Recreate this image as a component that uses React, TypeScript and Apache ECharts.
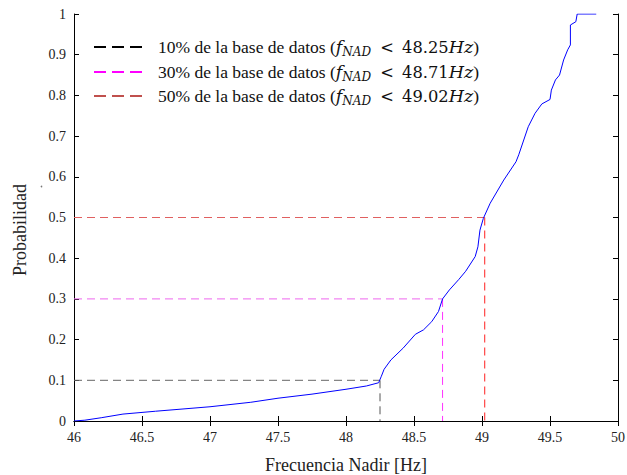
import React, { useEffect, useRef } from "react";
import * as echarts from "echarts";

const cdfX = [46.0, 46.08, 46.2, 46.36, 46.6, 47.0, 47.3, 47.5, 47.75, 48.0, 48.15, 48.24, 48.26, 48.28, 48.33, 48.42, 48.51, 48.57, 48.63, 48.68, 48.71, 48.76, 48.83, 48.88, 48.95, 48.97, 48.985, 49.01, 49.06, 49.16, 49.25, 49.27, 49.34, 49.39, 49.44, 49.5, 49.51, 49.54, 49.57, 49.6, 49.63, 49.65, 49.65, 49.69, 49.7, 49.84];
const cdfY = [0.0, 0.002, 0.008, 0.017, 0.024, 0.035, 0.046, 0.056, 0.066, 0.078, 0.086, 0.094, 0.11, 0.127, 0.15, 0.179, 0.213, 0.224, 0.244, 0.269, 0.3, 0.322, 0.348, 0.368, 0.404, 0.428, 0.469, 0.498, 0.535, 0.592, 0.637, 0.654, 0.723, 0.756, 0.779, 0.79, 0.813, 0.838, 0.85, 0.887, 0.912, 0.924, 0.973, 0.981, 1.0, 1.0];

const thresholdPct = [10, 30, 50];
const thresholdProb = [0.1, 0.3, 0.5];
const thresholdFreq = [48.25, 48.71, 49.02];
const thresholdLabels = ["48.25", "48.71", "49.02"];
const legendColors = ["#000000", "#ff00ff", "#c0504d"];
const vLineColors = ["#555555", "#ff33ff", "#ff2020"];
const hLineColors = ["#666666", "#ee66ee", "#e06060"];

const X_MIN = 46;
const X_MAX = 50;

export default function App() {
  const ref = useRef<HTMLDivElement>(null);
  useEffect(() => {
    if (!ref.current) return;
    const chart = echarts.init(ref.current, undefined, { renderer: "svg" });
    const font = "'Liberation Serif', 'Times New Roman', serif";
    const math = "'DejaVu Serif', serif";

    const series: any[] = [
      {
        type: "line",
        data: cdfX.map((x, i) => [x, cdfY[i]]),
        showSymbol: false,
        lineStyle: { color: "#0000ff", width: 1 },
        z: 5,
      },
    ];
    thresholdFreq.forEach((f, i) => {
      series.push({
        type: "line",
        data: [
          [X_MIN, thresholdProb[i]],
          [f, thresholdProb[i]],
        ],
        showSymbol: false,
        lineStyle: { color: hLineColors[i], width: 1, type: [8, 5] },
        z: 3,
      });
      series.push({
        type: "line",
        data: [
          [f, thresholdProb[i]],
          [f, 0],
        ],
        showSymbol: false,
        lineStyle: { color: vLineColors[i], width: 1, type: [8, 5] },
        z: 3,
      });
    });

    const graphics: any[] = [];
    const legendY = [47, 72, 96];
    thresholdPct.forEach((p, i) => {
      graphics.push({
        type: "line",
        shape: { x1: 94, y1: legendY[i], x2: 143, y2: legendY[i] },
        style: { stroke: legendColors[i], lineWidth: 2, lineDash: [12, 6] },
      });
      graphics.push({
        type: "text",
        x: 158,
        y: legendY[i],
        style: {
          text: `{n|${p}% de la base de datos (}{i|f}{s|NAD}{m|\u2002<\u2002${thresholdLabels[i]}}{i|Hz}{n|)}`,
          verticalAlign: "middle",
          rich: {
            n: { fontFamily: font, fontSize: 17.5, fill: "#111" },
            m: { fontFamily: math, fontSize: 16.3, fill: "#111" },
            i: { fontFamily: math, fontSize: 17.5, fontStyle: "italic", fill: "#111" },
            s: { fontFamily: math, fontSize: 12, fontStyle: "italic", fill: "#111", padding: [9, 1, 0, 0] },
          },
        },
      });
    });
    graphics.push({
      type: "circle",
      shape: { cx: 41.5, cy: 186.5, r: 0.8 },
      style: { fill: "#777" },
    });

    const axisCommon = {
      type: "value",
      axisLine: { show: true, lineStyle: { color: "#000", width: 1 } },
      axisTick: { show: true, inside: true, length: 5, lineStyle: { color: "#000" } },
      splitLine: { show: false },
    };

    chart.setOption({
      animation: false,
      backgroundColor: "#fff",
      grid: { left: 74, right: 9, top: 14, bottom: 54, containLabel: false, outerBoundsMode: "none" },
      xAxis: [
        {
          ...axisCommon,
          min: X_MIN,
          max: X_MAX,
          interval: 0.5,
          position: "bottom",
          axisLabel: { fontFamily: font, fontSize: 14, color: "#222", margin: 9 },
          name: "Frecuencia Nadir [Hz]",
          nameLocation: "middle",
          nameGap: 35,
          nameTextStyle: { fontFamily: font, fontSize: 18, color: "#222" },
        },
        {
          ...axisCommon,
          min: X_MIN,
          max: X_MAX,
          interval: 0.5,
          position: "top",
          axisLabel: { show: false },
        },
      ],
      yAxis: [
        {
          ...axisCommon,
          min: 0,
          max: 1,
          interval: 0.1,
          position: "left",
          axisLabel: { fontFamily: font, fontSize: 14, color: "#222", margin: 8 },
          name: "Probabilidad",
          nameLocation: "middle",
          nameGap: 45,
          nameTextStyle: { fontFamily: font, fontSize: 18, color: "#222", padding: [0, 25, 0, 0] },
        },
        {
          ...axisCommon,
          min: 0,
          max: 1,
          interval: 0.1,
          position: "right",
          axisLabel: { show: false },
        },
      ],
      series,
      graphic: graphics,
    });
    return () => chart.dispose();
  }, []);
  return (
    <div
      ref={ref}
      style={{ position: "fixed", left: 0, top: 0, width: 627, height: 475, background: "#fff" }}
    />
  );
}
